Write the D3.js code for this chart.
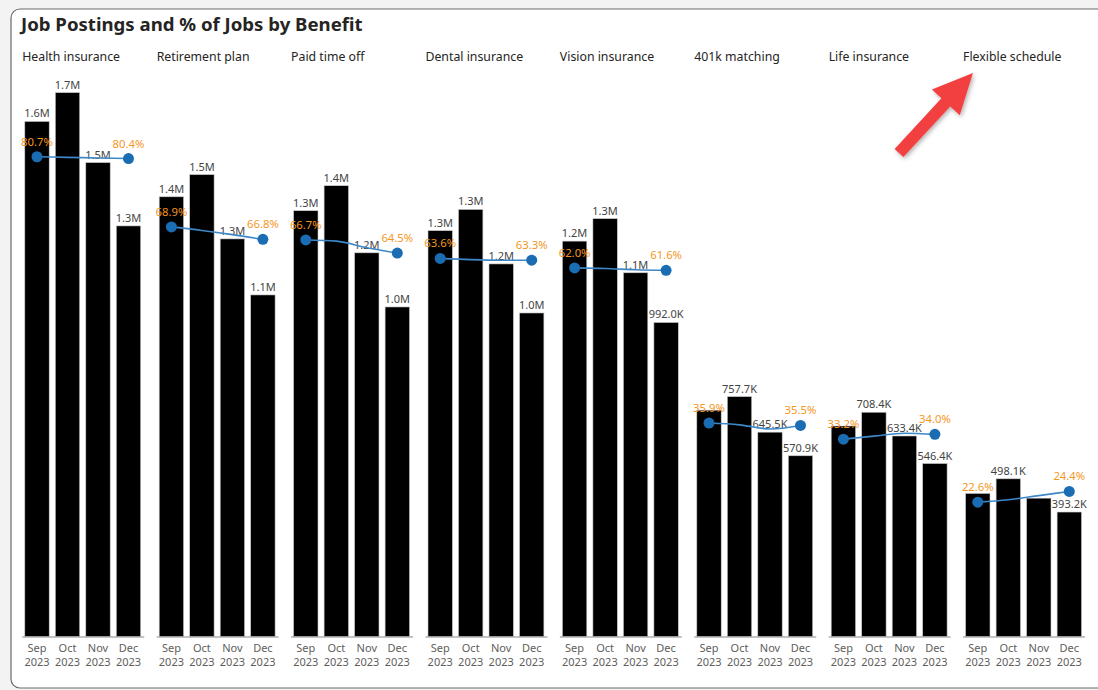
<!DOCTYPE html>
<html>
<head>
<meta charset="utf-8">
<script src="https://cdn.jsdelivr.net/npm/d3@7"></script>
<style>
  html, body { margin: 0; padding: 0; background: #f3f3f3; }
  svg { display: block; }
  text { font-family: "Segoe UI", "Noto Sans", "Open Sans", sans-serif; }
</style>
</head>
<body>
<svg id="chart" width="1098" height="690"></svg>
<script>
// Benefit categories (one small multiple each) and the months on each x axis
const benefits = ["Health insurance", "Retirement plan", "Paid time off", "Dental insurance",
                  "Vision insurance", "401k matching", "Life insurance", "Flexible schedule"];
const months = ["Sep 2023", "Oct 2023", "Nov 2023", "Dec 2023"];

// Job postings per benefit and month, in thousands
const healthPostings     = [1627, 1718, 1497, 1297];
const retirementPostings = [1389, 1459, 1256, 1079];
const ptoPostings        = [1345, 1424, 1212, 1041];
const dentalPostings     = [1282, 1349, 1177, 1022];
const visionPostings     = [1249, 1320, 1149, 992.0];
const k401Postings       = [715, 757.7, 645.5, 570.9];
const lifePostings       = [665, 708.4, 633.4, 546.4];
const flexPostings       = [452, 498.1, 437, 393.2];

// Share of jobs offering each benefit, percent
const healthShare     = [80.7, 80.6, 80.5, 80.4];
const retirementShare = [68.9, 68.3, 67.6, 66.8];
const ptoShare        = [66.7, 66.5, 65.4, 64.5];
const dentalShare     = [63.6, 63.4, 63.3, 63.3];
const visionShare     = [62.0, 61.9, 61.7, 61.6];
const k401Share       = [35.9, 35.6, 34.9, 35.5];
const lifeShare       = [33.2, 33.7, 34.2, 34.0];
const flexShare       = [22.6, 23.0, 23.7, 24.4];

// Column labels the renderer drops where they collide with the percentage labels
const hiddenPostingLabels = [["401k matching", "Sep 2023"], ["Life insurance", "Sep 2023"],
                             ["Flexible schedule", "Sep 2023"], ["Flexible schedule", "Nov 2023"]];

const postings = [healthPostings, retirementPostings, ptoPostings, dentalPostings,
                  visionPostings, k401Postings, lifePostings, flexPostings];
const shares = [healthShare, retirementShare, ptoShare, dentalShare,
                visionShare, k401Share, lifeShare, flexShare];

const svg = d3.select("#chart");

// Card
svg.append("rect")
  .attr("x", 11).attr("y", 9).attr("width", 1120).attr("height", 679)
  .attr("rx", 9).attr("fill", "#ffffff").attr("stroke", "#6b6b6b").attr("stroke-width", 1.2);

svg.append("text")
  .attr("x", 21).attr("y", 31)
  .attr("font-size", 18.6).attr("font-weight", 700).attr("fill", "#252423")
  .text("Job Postings and % of Jobs by Benefit");

// Shared vertical scales for columns and percentages
const baseY = 636.5, topY = 42;
const y = d3.scaleLinear().domain([0, 1878]).range([baseY, topY]);
const yPct = d3.scaleLinear().domain([0, 100]).range([baseY, topY]);

// Horizontal placement of the small multiples
const panel = d3.scaleBand().domain(benefits).range([21.75, 21.75 + 134.4 * 8]);

const fmt = v => v >= 1000 ? (v / 1000).toFixed(1) + "M" : v.toFixed(1) + "K";
const isHidden = (b, m) => hiddenPostingLabels.some(h => h[0] === b && h[1] === m);

const line = d3.line().curve(d3.curveMonotoneX);

benefits.forEach((b, i) => {
  const x0 = panel(b);
  const g = svg.append("g");
  const x = d3.scaleBand().domain(months).range([x0, x0 + 122]).paddingInner(0.2).paddingOuter(0.1);

  g.append("text")
    .attr("x", x0 + 0.5).attr("y", 61)
    .attr("font-size", 12.3).attr("fill", "#252423")
    .text(b);

  const rows = months.map((m, k) => ({ m, v: postings[i][k], p: shares[i][k] }));

  // Columns
  g.selectAll("rect.bar").data(rows).join("rect")
    .attr("class", "bar")
    .attr("x", d => x(d.m)).attr("width", x.bandwidth())
    .attr("y", d => y(d.v)).attr("height", d => y(0) - y(d.v))
    .attr("fill", "#000000").attr("stroke", "#c8c8c8").attr("stroke-width", 0.6);

  // Baseline axis
  const axis = d3.axisBottom(x).tickSize(0).tickFormat(() => "");
  const ag = g.append("g").attr("transform", `translate(0,${baseY})`).call(axis);
  ag.select(".domain").attr("stroke", "#8a8a8a").attr("stroke-width", 1.2);

  // Two-line month labels
  const tl = g.selectAll("text.tick2").data(months).join("text")
    .attr("text-anchor", "middle").attr("font-size", 11).attr("fill", "#605E5C");
  tl.append("tspan").attr("x", d => x(d) + x.bandwidth() / 2).attr("y", 652).text(d => d.split(" ")[0]);
  tl.append("tspan").attr("x", d => x(d) + x.bandwidth() / 2).attr("y", 666).text(d => d.split(" ")[1]);

  // Column value labels
  g.selectAll("text.val").data(rows.filter(d => !isHidden(b, d.m))).join("text")
    .attr("x", d => x(d.m) + x.bandwidth() / 2).attr("y", d => y(d.v) - 4)
    .attr("text-anchor", "middle").attr("font-size", 11).attr("fill", "#444444")
    .text(d => fmt(d.v));

  // Percentage line
  const pts = rows.map(d => [x(d.m) + x.bandwidth() / 2, yPct(d.p)]);
  g.append("path").attr("d", line(pts))
    .attr("fill", "none").attr("stroke", "#3d88c9").attr("stroke-width", 1.6);

  const ends = [rows[0], rows[rows.length - 1]];
  g.selectAll("circle").data(ends).join("circle")
    .attr("cx", d => x(d.m) + x.bandwidth() / 2).attr("cy", d => yPct(d.p))
    .attr("r", 5.5).attr("fill", "#1a6cb3");
  g.selectAll("text.pct").data(ends).join("text")
    .attr("x", d => x(d.m) + x.bandwidth() / 2).attr("y", d => yPct(d.p) - 11)
    .attr("text-anchor", "middle").attr("font-size", 11.3).attr("fill", "#F5961E")
    .text(d => d.p.toFixed(1) + "%");
});

// Red callout arrow pointing at the last panel title
const defs = svg.append("defs");
const f = defs.append("filter").attr("id", "shadow").attr("x", "-30%").attr("y", "-30%").attr("width", "160%").attr("height", "160%");
f.append("feDropShadow").attr("dx", 1.5).attr("dy", 2).attr("stdDeviation", 2).attr("flood-color", "#000").attr("flood-opacity", 0.3);

const tail = [899, 153], tip = [973, 73];
const shaftHalf = 6, headHalf = 19, headLen = 40;
const dx = tip[0] - tail[0], dy = tip[1] - tail[1], len = Math.hypot(dx, dy);
const u = [dx / len, dy / len], n = [-u[1], u[0]];
const hb = [tip[0] - u[0] * headLen, tip[1] - u[1] * headLen];
const P = (p, a, s) => [p[0] + n[0] * a * s, p[1] + n[1] * a * s];
const arrowPts = [P(tail, shaftHalf, 1), P(hb, shaftHalf, 1), P(hb, headHalf, 1), tip,
                  P(hb, headHalf, -1), P(hb, shaftHalf, -1), P(tail, shaftHalf, -1)];
svg.append("polygon")
  .attr("points", arrowPts.map(p => p.join(",")).join(" "))
  .attr("fill", "#f2413f").attr("filter", "url(#shadow)");
</script>
</body>
</html>
